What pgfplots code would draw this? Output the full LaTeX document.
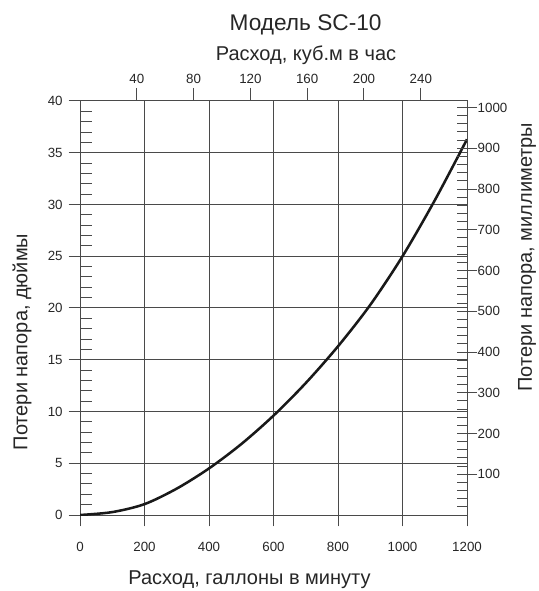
\documentclass[border=0pt]{standalone}
\usepackage{fontspec}
\setmainfont{Liberation Sans}
\usepackage{pgfplots}
\pgfplotsset{compat=1.18}
\definecolor{gridc}{HTML}{4A4A4A}
\definecolor{txt}{HTML}{262626}
\begin{document}
\begin{tikzpicture}
\useasboundingbox (-60pt,-57pt) rectangle (343.5pt,386.25pt);
\pgfplotsset{
  common/.style={
    at={(0,0)}, anchor=south west, scale only axis,
    width=290.25pt, height=310.5pt,
    /pgf/number format/assume math mode=true,
    /pgf/number format/1000 sep={},
    ticklabel style={font=\fontsize{10}{12}\selectfont, text=txt},
    tick style={gridc, line width=0.75pt},
    label style={font=\fontsize{15}{18}\selectfont, text=txt},
    every axis title shift=0pt,
  }
}
% main axis
\begin{axis}[common,
  xmin=0, xmax=1200, ymin=0, ymax=40,
  xtick={0,200,...,1200}, ytick={0,5,...,40},
  grid=major, major grid style={gridc, line width=0.75pt},
  axis line style={gridc, line width=0.75pt},
  tick align=outside, major tick length=8.5pt, tick pos=left,
  xticklabel style={yshift=-8pt},
  yticklabel style={xshift=-1pt},
  xlabel={Расход, галлоны в минуту},
  ylabel={Потери напора, дюймы},
  xlabel style={at={(axis description cs:0.438,-0.157)}, anchor=center},
  ylabel style={at={(axis description cs:-0.150,0.418)}, anchor=center},
  clip=true,
]
\addplot[black!90, line width=1.9pt, smooth] coordinates {
(0,0) (100,0.28) (200,1.05) (300,2.55) (400,4.5) (500,6.85) (600,9.6)
(700,12.75) (800,16.3) (900,20.3) (1000,25.0) (1100,30.4) (1200,36.3)};
\end{axis}
% left minor ticks (inside)
\begin{axis}[common,
  xmin=0, xmax=1200, ymin=0, ymax=40,
  axis x line=none, axis y line*=left,
  xtick=\empty,
  ytick={1,2,3,4,6,7,8,9,11,12,13,14,16,17,18,19,21,22,23,24,26,27,28,29,31,32,33,34,36,37,38,39},
  yticklabels={}, tick align=inside, major tick length=9pt,
  axis line style={draw=none, -},
]
\end{axis}
% right mm axis: major ticks
\begin{axis}[common,
  xmin=0, xmax=1200, ymin=0, ymax=1016,
  axis x line=none, axis y line*=right,
  xtick=\empty,
  ytick={100,200,...,1000},
  tick align=center, major tick length=15pt,
  yticklabel style={xshift=-3pt},
  axis line style={draw=none, -},
  ylabel={Потери напора, миллиметры},
  ylabel style={at={(axis description cs:1.155,0.623)}, anchor=center, rotate=0},
]
\end{axis}
% right mm axis: minor ticks
\begin{axis}[common,
  xmin=0, xmax=1200, ymin=0, ymax=1016,
  axis x line=none, axis y line*=right,
  xtick=\empty,
  ytick={20,40,...,1000}, yticklabels={},
  tick align=inside, major tick length=7.5pt,
  axis line style={draw=none, -},
]
\end{axis}
% top m3/h axis
\begin{axis}[common,
  xmin=0, xmax=272.54, ymin=0, ymax=40,
  ytick=\empty,
  xtick={40,80,...,240},
  tick align=outside, major tick length=9.75pt, xtick pos=right, xticklabel pos=right,
  axis line style={draw=none},
  xlabel={Расход, куб.м в час},
  xlabel style={at={(axis description cs:0.584,1.111)}, anchor=center},
  title={Модель SC-10},
  title style={at={(axis description cs:0.583,1.185)}, anchor=center, font=\fontsize{17}{20}\selectfont, text=txt},
]
\end{axis}
\end{tikzpicture}
\end{document}
